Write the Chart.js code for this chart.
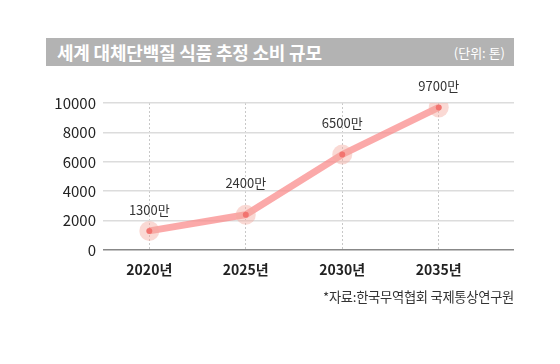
<!DOCTYPE html>
<html>

<head>
    <title>세계 대체단백질 식품 추정 소비 규모</title>
    <script src="https://cdn.jsdelivr.net/npm/chart.js"></script>
    <style>
        body { margin: 0; background: #fff; font-family: 'Noto Sans CJK KR', sans-serif; }
        .wrap { position: relative; width: 560px; height: 364px; }
        .title-bar {
            position: absolute; left: 46px; top: 38px; width: 468px; height: 28px;
            background: #b3b3b3; color: #fff; box-sizing: border-box; padding: 0 9px 0 11px;
            display: flex; align-items: center; justify-content: space-between;
        }
        .title-bar .t { font-size: 18px; font-weight: bold; letter-spacing: -0.2px; }
        .title-bar .u { font-size: 13px; }
        .source { position: absolute; right: 46px; top: 287px; font-size: 13.3px; color: #333; letter-spacing: -0.3px; }
        canvas { position: absolute; left: 0; top: 0; }
    </style>
</head>

<body>
    <div class="wrap">
        <div class="title-bar"><span class="t">세계 대체단백질 식품 추정 소비 규모</span><span class="u">(단위: 톤)</span></div>
        <canvas id="chart" width="560" height="364"></canvas>
        <div class="source">*자료:한국무역협회 국제통상연구원</div>
    </div>

    <script type="text/javascript">
        const years = [2020, 2025, 2030, 2035]
        const consumption = [1300, 2400, 6500, 9700]
        const valueLabels = ['1300만', '2400만', '6500만', '9700만']
        const labelLift = [21, 32, 31, 21]
        const fontFamily = "'Noto Sans CJK KR', sans-serif"

        const points = years.map((y, i) => ({ x: y, y: consumption[i] }))

        const valueLabelPlugin = {
            id: 'valueLabels',
            afterDatasetsDraw(chart) {
                const meta = chart.getDatasetMeta(1)
                const ctx = chart.ctx
                ctx.save()
                ctx.font = '13px ' + fontFamily
                ctx.fillStyle = '#333'
                ctx.textAlign = 'center'
                ctx.textBaseline = 'middle'
                meta.data.forEach((pt, i) => {
                    ctx.fillText(valueLabels[i], pt.x, pt.y - labelLift[i])
                })
                ctx.restore()
            }
        }

        const ctx = document.getElementById('chart')
        let chart = new Chart(ctx, {
            type: 'line',
            data: {
                datasets: [{
                        data: points,
                        showLine: false,
                        pointRadius: 10,
                        pointBackgroundColor: 'rgba(244,170,160,0.45)',
                        pointBorderWidth: 0
                    },
                    {
                        data: points,
                        borderColor: 'rgba(250,140,140,0.75)',
                        borderWidth: 7,
                        pointRadius: 3,
                        pointBackgroundColor: '#f04848',
                        pointBorderWidth: 0,
                        tension: 0
                    }
                ]
            },
            options: {
                responsive: false,
                animation: false,
                layout: { padding: { left: 0, right: 46, top: 103, bottom: 74 } },
                plugins: { legend: { display: false }, tooltip: { enabled: false } },
                scales: {
                    x: {
                        type: 'linear',
                        min: 2017.6,
                        max: 2038.9,
                        afterBuildTicks: axis => { axis.ticks = years.map(v => ({ value: v })) },
                        afterFit: axis => { axis.height = 40 },
                        grid: { color: '#c8c8c8', lineWidth: 1, drawTicks: false },
                        border: { display: false, dash: [2, 2] },
                        ticks: {
                            padding: 11,
                            color: '#222',
                            font: { family: fontFamily, size: 14, weight: 'bold' },
                            callback: v => v + '년'
                        }
                    },
                    y: {
                        min: 0,
                        max: 10000,
                        afterFit: axis => { axis.width = 103 },
                        grid: {
                            drawTicks: false,
                            lineWidth: 1.5,
                            color: c => c.tick && c.tick.value === 0 ? '#888' : '#dcdcdc'
                        },
                        border: { display: false },
                        ticks: {
                            stepSize: 2000,
                            padding: 7,
                            color: '#222',
                            font: { family: fontFamily, size: 15 },
                            callback: v => String(v)
                        }
                    }
                }
            },
            plugins: [valueLabelPlugin]
        })
    </script>
</body>

</html>
